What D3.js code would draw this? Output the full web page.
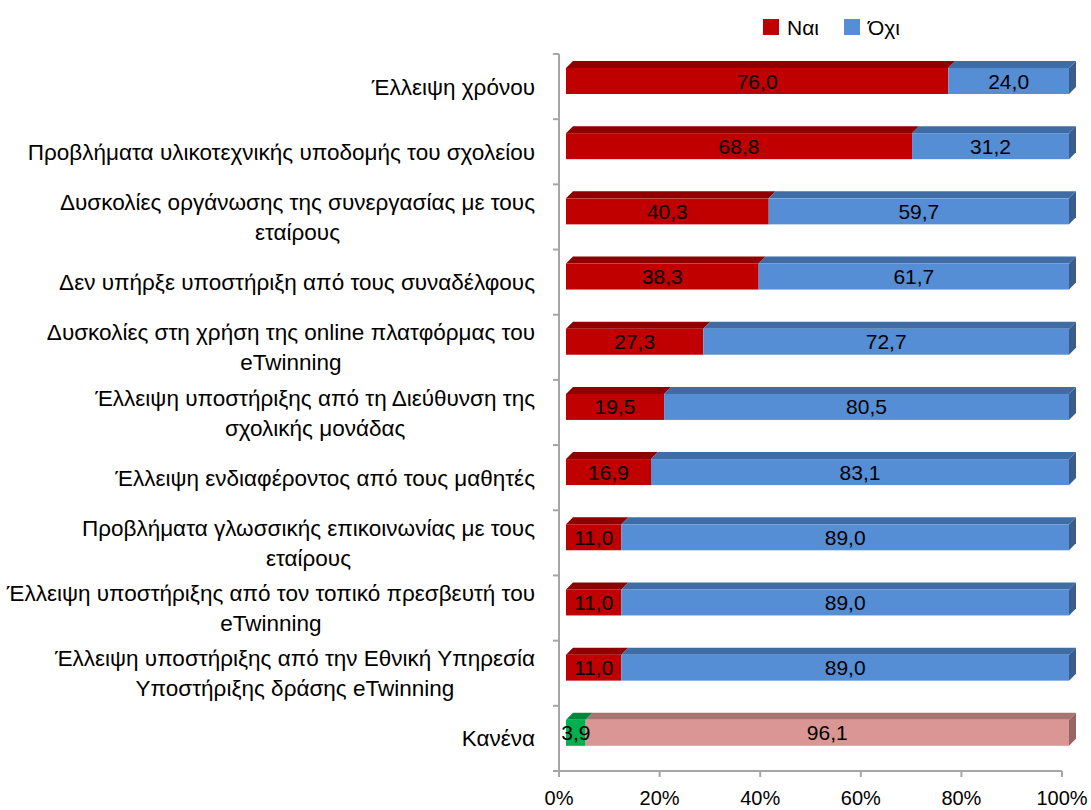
<!DOCTYPE html>
<html><head><meta charset="utf-8">
<script src="https://cdn.jsdelivr.net/npm/d3@7"></script>
<style>body{margin:0;background:#fff}svg{display:block}</style>
</head><body><svg id="c" width="1091" height="810"></svg>
<script>
const categories = [
  ["Έλλειψη χρόνου"],
  ["Προβλήματα υλικοτεχνικής υποδομής του σχολείου"],
  ["Δυσκολίες οργάνωσης της συνεργασίας με τους", "εταίρους"],
  ["Δεν υπήρξε υποστήριξη από τους συναδέλφους"],
  ["Δυσκολίες στη χρήση της online πλατφόρμας του", "eTwinning"],
  ["Έλλειψη υποστήριξης από τη Διεύθυνση της", "σχολικής μονάδας"],
  ["Έλλειψη ενδιαφέροντος από τους μαθητές"],
  ["Προβλήματα γλωσσικής επικοινωνίας με τους", "εταίρους"],
  ["Έλλειψη υποστήριξης από τον τοπικό πρεσβευτή του", "eTwinning"],
  ["Έλλειψη υποστήριξης από την Εθνική Υπηρεσία", "Υποστήριξης δράσης eTwinning"],
  ["Κανένα"]
];
const yesValues = [76.0, 68.8, 40.3, 38.3, 27.3, 19.5, 16.9, 11.0, 11.0, 11.0, 3.9];
const noValues  = [24.0, 31.2, 59.7, 61.7, 72.7, 80.5, 83.1, 89.0, 89.0, 89.0, 96.1];
const seriesNames = ["Ναι", "Όχι"];
const xTicks = [0, 20, 40, 60, 80, 100];

const FONT = "'Liberation Sans', Arial, sans-serif";
const svg = d3.select("#c");
const x = d3.scaleLinear().domain([0, 100]).range([559, 1062]);
const y = d3.scaleBand().domain(d3.range(categories.length)).range([54, 771]).padding(0);
const D = 7; // 3D depth
const colors = {
  yes: {front: "#C00000", top: "#8E0000", side: "#7A0000"},
  no: {front: "#558ED5", top: "#3F6CA4", side: "#3A5E8C"},
  yesLast: {front: "#00B050", top: "#00873C", side: "#007434"},
  noLast: {front: "#D99694", top: "#A87472", side: "#986563"}
};

// axes
const axisColor = "#A6A6A6";
svg.append("line").attr("x1", x(0)).attr("x2", x(0)).attr("y1", y.range()[0]).attr("y2", y.range()[1])
  .attr("stroke", axisColor).attr("stroke-width", 2);
const yTickPos = d3.range(categories.length + 1).map(i => y.range()[0] + i * y.step());
svg.selectAll(".yt").data(yTickPos).join("line")
  .attr("x1", x(0) - 6).attr("x2", x(0)).attr("y1", d => d).attr("y2", d => d)
  .attr("stroke", axisColor).attr("stroke-width", 2);
svg.append("line").attr("x1", x(0)).attr("x2", x(100)).attr("y1", y.range()[1]).attr("y2", y.range()[1])
  .attr("stroke", axisColor).attr("stroke-width", 2);
svg.selectAll(".xt").data(xTicks).join("line")
  .attr("x1", d => x(d)).attr("x2", d => x(d)).attr("y1", y.range()[1]).attr("y2", y.range()[1] + 6)
  .attr("stroke", axisColor).attr("stroke-width", 2);
svg.selectAll(".xl").data(xTicks).join("text")
  .attr("x", d => x(d)).attr("y", 805).attr("text-anchor", "middle")
  .attr("font-family", FONT).attr("font-size", 20).attr("fill", "#000")
  .text(d => d + "%");

// bars
const rows = categories.map((c, i) => ({i, yes: yesValues[i], no: noValues[i]}));
rows.forEach(r => {
  const last = r.i === categories.length - 1;
  const segs = [
    {v0: 0, v1: r.yes, c: last ? colors.yesLast : colors.yes, label: r.yes},
    {v0: r.yes, v1: r.yes + r.no, c: last ? colors.noLast : colors.no, label: r.no}
  ];
  const yt = y(r.i) + 14, h = 26;
  const g = svg.append("g");
  segs.forEach((s, k) => {
    const x0 = x(s.v0) + D, x1 = x(s.v1) + D;
    g.append("path").attr("d", `M${x0},${yt}L${x0 + D},${yt - D}L${x1 + D},${yt - D}L${x1},${yt}Z`).attr("fill", s.c.top);
    g.append("rect").attr("x", x0).attr("y", yt).attr("width", x1 - x0).attr("height", h).attr("fill", s.c.front);
    if (k === 1) {
      g.append("path").attr("d", `M${x1},${yt}L${x1 + D},${yt - D}L${x1 + D},${yt + h - D}L${x1},${yt + h}Z`).attr("fill", s.c.side);
    }
  });
  segs.forEach(s => {
    const x0 = x(s.v0) + D, x1 = x(s.v1) + D;
    g.append("text").attr("x", (x0 + x1) / 2).attr("y", yt + h / 2 + 7.5).attr("text-anchor", "middle")
      .attr("font-family", FONT).attr("font-size", 21).attr("fill", "#000")
      .text(s.label.toFixed(1).replace(".", ","));
  });
});

// category labels
categories.forEach((lines, i) => {
  const cy = y(i) + y.bandwidth() / 2;
  const lh = 30;
  const t = svg.append("text").attr("font-family", FONT).attr("font-size", 22.5).attr("fill", "#000");
  if (lines.length === 1) {
    t.attr("x", 535).attr("y", cy + 8).attr("text-anchor", "end").text(lines[0]);
  } else {
    const tmp = t.text(lines[0]);
    const w = tmp.node().getComputedTextLength();
    const cx = 535 - w / 2;
    t.text(null).attr("text-anchor", "middle");
    lines.forEach((ln, k) => {
      t.append("tspan").attr("x", cx).attr("y", cy + 8 + (k - (lines.length - 1) / 2) * lh).text(ln);
    });
  }
});

// legend
const legend = svg.append("g");
const legItems = [{name: seriesNames[0], c: colors.yes.front, x: 763}, {name: seriesNames[1], c: colors.no.front, x: 844}];
legItems.forEach(it => {
  legend.append("rect").attr("x", it.x).attr("y", 19).attr("width", 16).attr("height", 16).attr("fill", it.c);
  legend.append("text").attr("x", it.x + 24).attr("y", 35).attr("font-family", FONT).attr("font-size", 21).text(it.name);
});
</script></body></html>
